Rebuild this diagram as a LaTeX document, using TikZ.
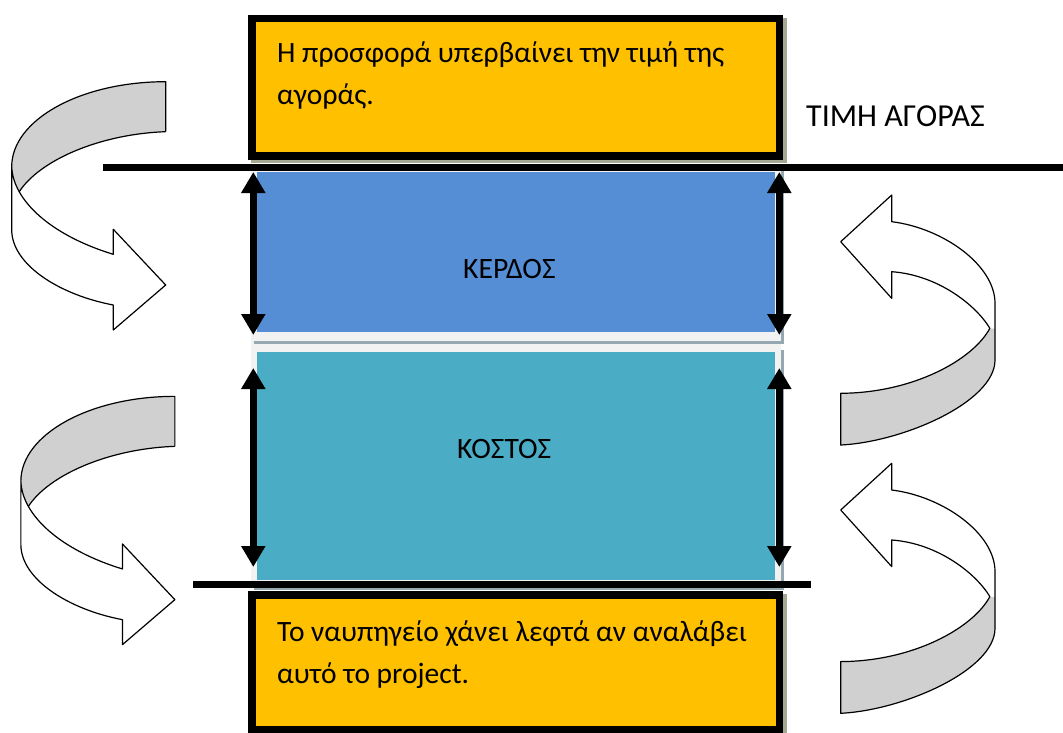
\documentclass[tikz,border=0pt]{standalone}
\usepackage{fontspec}
\setmainfont{Carlito}
\usetikzlibrary{arrows.meta}
\definecolor{boxorange}{HTML}{FFC000}
\definecolor{profitblue}{HTML}{558ED5}
\definecolor{costteal}{HTML}{4BACC6}
\definecolor{paleedge}{HTML}{F2F2F2}
\definecolor{boxshade}{HTML}{A3A993}
\definecolor{bandshade}{HTML}{95A7B0}
\definecolor{ribbonback}{HTML}{D0D0D0}
\tikzset{
  ribbonline/.style={draw=black, line width=1.2pt, line join=round},
  % curved 3D arrow turning to the right (back of the band shaded)
  leftribbon/.pic={
    \fill[ribbonback] (77,-124.15) .. controls (-8,-124.15) and (-77,-86.05) .. (-77,-39.15)
       -- (-77,-14.13) -- (-69.48,-14.13)
       .. controls (-48.7,-45.85) and (11.3,-71.85) .. (77,-74.15) -- cycle;
    \filldraw[ribbonline, fill=white] (-77,-39.15) .. controls (-75.7,-5.85) and (-38.7,29.15) .. (24.6,48.45)
       -- (24.6,23.45) -- (77,79.15) -- (24.6,124.15) -- (24.6,99.15)
       .. controls (-28.7,89.15) and (-76.7,59.15) .. (-77,24.15) -- cycle;
    \draw[ribbonline] (77,-74.15) -- (77,-124.15) .. controls (-8,-124.15) and (-77,-86.05) .. (-77,-39.15);
    \draw[ribbonline] (77,-74.15) .. controls (11.3,-71.85) and (-48.7,-45.85) .. (-69.48,-14.13);
  },
  % curved 3D arrow turning to the left
  rightribbon/.pic={
    \fill[ribbonback] (72,8.3) .. controls (55,40) and (-5,73) .. (-77.15,73.3)
       -- (-77.15,125) .. controls (-15,122) and (77.15,82) .. (77.15,40) -- (77.15,8.3) -- cycle;
    \fill[white] (-26.15,-98.3) .. controls (25,-92) and (77.15,-55) .. (77.15,-16.7) -- (77.15,8.3) -- (72,8.3)
       .. controls (58,-15) and (20,-45) .. (-26.15,-48.3) -- (-26.15,-21.7) -- (-77.15,-78.3) -- (-26.15,-125) -- cycle;
    \draw[ribbonline] (-26.15,-48.3) .. controls (20,-45) and (58,-15) .. (72,8.3)
       .. controls (55,40) and (-5,73) .. (-77.15,73.3) -- (-77.15,125)
       .. controls (-15,122) and (77.15,82) .. (77.15,40) -- (77.15,-16.7)
       .. controls (77.15,-55) and (25,-92) .. (-26.15,-98.3) -- (-26.15,-125)
       -- (-77.15,-78.3) -- (-26.15,-21.7) -- cycle;
  },
}
\begin{document}
\begin{tikzpicture}[x=1pt, y=-1pt,
  framebox/.style={draw=black, line width=7.5pt, fill=boxorange, rectangle, inner sep=0pt},
  bandbox/.style={draw=paleedge, line width=6pt, rectangle, inner sep=0pt},
  pricerule/.style={line width=7pt, black},
  gauge/.style={line width=6.5pt, {Triangle[length=21pt,width=23pt]}-{Triangle[length=21pt,width=23pt]}},
  txt/.style={inner sep=0pt, font=\fontsize{29.5}{42}\selectfont, text=black},
  bandtxt/.style={inner sep=0pt, font=\fontsize{29.6}{34}\selectfont, text=black},
]
\useasboundingbox (0,0) rectangle (1063,733);

% offer box
\fill[boxshade] (251,18) rectangle (786.5,163.5);
\node[framebox, minimum width=527.5pt, minimum height=137.5pt] (offer) at (515.5,87.5) {};

% profit and cost bands
\fill[bandshade] (254,170) rectangle (784,342);
\fill[bandshade] (254,350) rectangle (784,590);
\node[bandbox, fill=profitblue, minimum width=524pt, minimum height=166pt] (profit) at (516,252) {};
\node[bandbox, fill=costteal, minimum width=524pt, minimum height=234pt] (cost) at (516,466) {};
% pale gap between the bands, crossed by the shadow of the profit band
\fill[paleedge] (251,332) rectangle (781,352);
\fill[bandshade] (254,340.5) rectangle (784,343.5);

% loss box
\fill[boxshade] (251,594) rectangle (786.5,740);
\node[framebox, minimum width=527.5pt, minimum height=134.5pt] (loss) at (515.5,662) {};

% market price and cost levels
\coordinate (priceL) at (103,168);
\coordinate (priceR) at (1063,168);
\coordinate (costL) at (193,584);
\coordinate (costR) at (811,584);
\draw[pricerule] (priceL) -- (priceR);
\draw[pricerule] (costL) -- (costR);

% extent arrows
\coordinate (pa1) at (253.3,172);  \coordinate (pa2) at (253.3,335);
\coordinate (pb1) at (779.3,172);  \coordinate (pb2) at (779.3,335);
\coordinate (ca1) at (253.3,368);  \coordinate (ca2) at (253.3,567);
\coordinate (cb1) at (779.3,368);  \coordinate (cb2) at (779.3,567);
\draw[gauge] (pa1) -- (pa2);
\draw[gauge] (pb1) -- (pb2);
\draw[gauge] (ca1) -- (ca2);
\draw[gauge] (cb1) -- (cb2);

% texts (base anchor of a two-line node sits on its last line)
\node[txt, anchor=base west, align=left] (offertext) at (277,105) {Η προσφορά υπερβαίνει την τιμή της\\αγοράς.};
\node[txt, anchor=base west, font=\fontsize{32}{38}\selectfont] (pricetext) at (806,127) {ΤΙΜΗ ΑΓΟΡΑΣ};
\node[bandtxt, anchor=base west] (profittext) at (463,278) {ΚΕΡΔΟΣ};
\node[bandtxt, anchor=base west] (costtext) at (457,458) {ΚΟΣΤΟΣ};
\node[txt, anchor=base west, align=left] (losstext) at (277,683) {Το ναυπηγείο χάνει λεφτά αν αναλάβει\\αυτό το project.};

% curved arrows
\pic at (88.7,205.85) {leftribbon};
\pic at (97.85,520.5) {leftribbon};
\pic at (917.85,320) {rightribbon};
\pic at (917.85,588.3) {rightribbon};
\end{tikzpicture}
\end{document}
